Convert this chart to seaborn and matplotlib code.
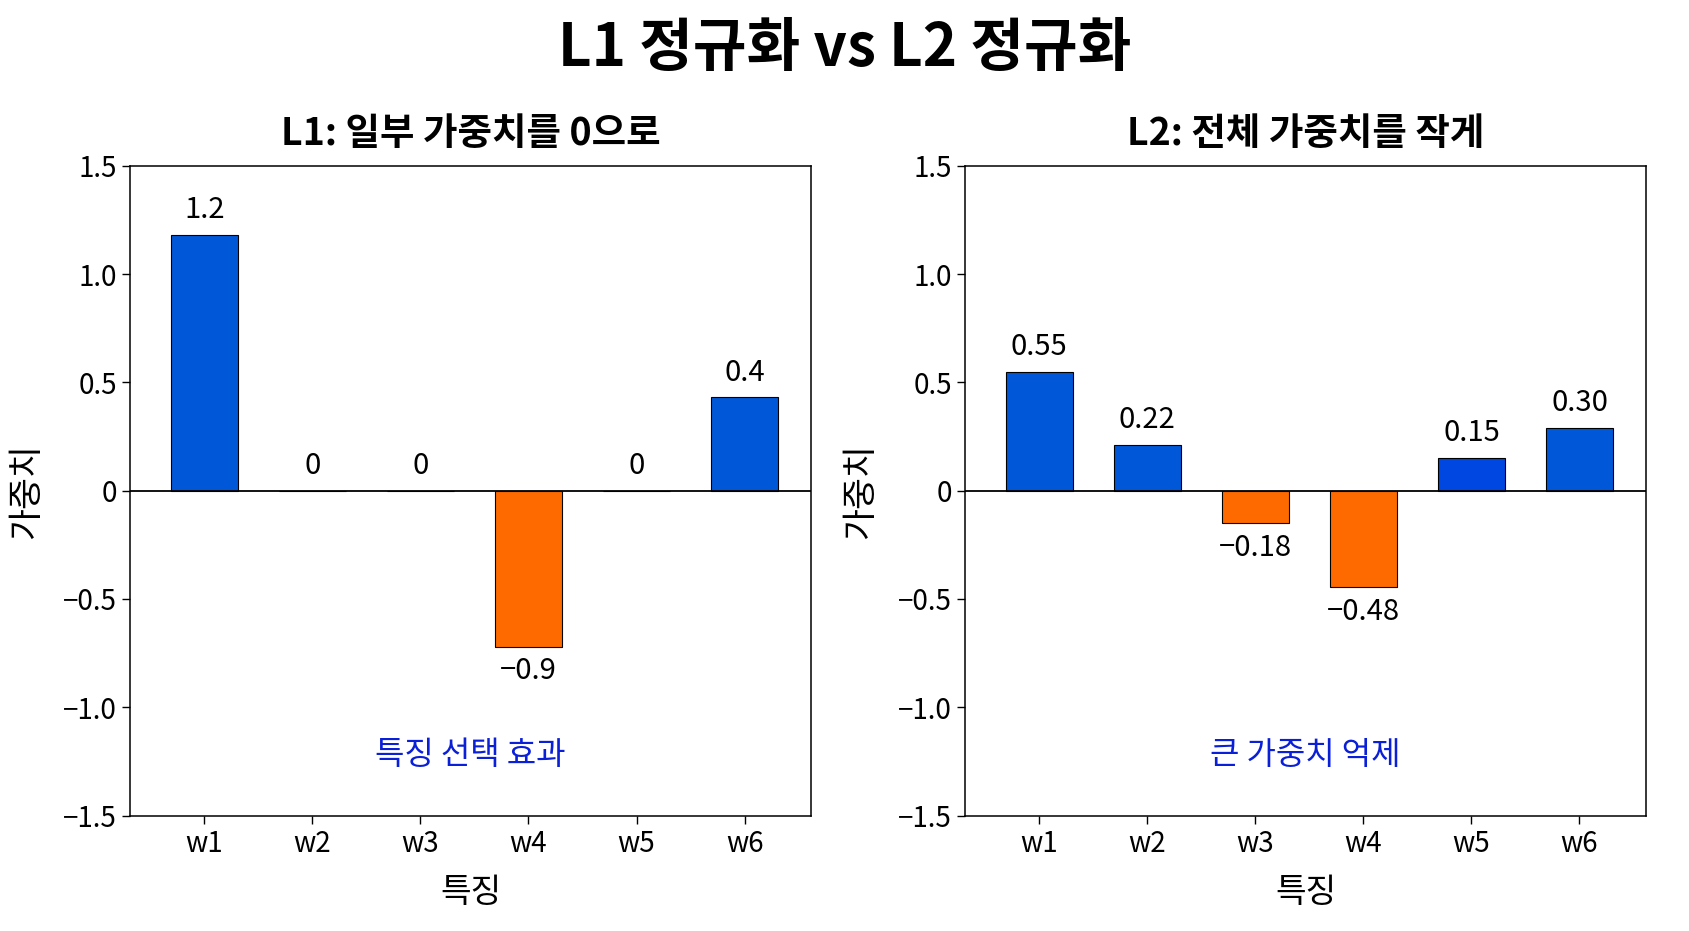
import matplotlib
matplotlib.use("Agg")
import matplotlib.pyplot as plt
import pandas as pd
import seaborn as sns

# data
features = ["w1", "w2", "w3", "w4", "w5", "w6"]
l1_weights = [1.18, 0.0, 0.0, -0.72, 0.0, 0.43]
l1_labels = ["1.2", "0", "0", "\u22120.9", "0", "0.4"]
l2_weights = [0.55, 0.21, -0.15, -0.445, 0.15, 0.29]
l2_labels = ["0.55", "0.22", "\u22120.18", "\u22120.48", "0.15", "0.30"]

BLUE = "#0058D8"
BLUE2 = "#0046E0"
ORANGE = "#FF6A00"
l1_colors = [BLUE, BLUE, BLUE, ORANGE, BLUE, BLUE]
l2_colors = [BLUE, BLUE, ORANGE, ORANGE, BLUE2, BLUE]

sns.set_theme(style="white")
plt.rcParams['font.family'] = ['Noto Sans CJK KR', 'DejaVu Sans']
plt.rcParams['axes.unicode_minus'] = True
# seaborn greys the text, the reference is plain black
for key in ['text.color', 'axes.labelcolor', 'xtick.color', 'ytick.color']:
    plt.rcParams[key] = 'black'


def draw_panel(ax, weights, labels, colors, title, note):
    '''bar chart of weights for one regularisation type'''
    df = pd.DataFrame({'feature': features, 'weight': weights})
    sns.barplot(data=df, x='feature', y='weight', hue='feature',
                palette=colors, legend=False, width=0.62,
                edgecolor='black', linewidth=0.8, saturation=1, ax=ax)
    ax.axhline(0, color='black', lw=1.3, zorder=5)

    for i, (w, lab) in enumerate(zip(weights, labels)):
        if w < 0:
            ax.annotate(lab, (i, w), xytext=(0, -7), textcoords='offset points',
                        ha='center', va='top', fontsize=21)
        else:
            ax.annotate(lab, (i, w), xytext=(0, 7), textcoords='offset points',
                        ha='center', va='bottom', fontsize=21)

    # note sits in the middle of the panel, near the bottom
    ax.text(0.5, 0.093, note, color='#0A1FD8', fontsize=23,
            ha='center', va='center', transform=ax.transAxes)

    ax.set_ylim(-1.5, 1.5)
    ax.set_xlim(-0.686, 5.616)
    ax.set_yticks([-1.5, -1.0, -0.5, 0, 0.5, 1.0, 1.5])
    ax.set_yticklabels(["\u22121.5", "\u22121.0", "\u22120.5", "0", "0.5", "1.0", "1.5"])
    ax.tick_params(axis='both', labelsize=20, length=6, width=1, direction='out',
                   left=True, bottom=True, colors='black')
    ax.set_title(title, fontsize=27, fontweight='bold', pad=15)
    ax.set_xlabel('특징', fontsize=24, labelpad=12)
    ax.set_ylabel('가중치', fontsize=25, labelpad=14)
    for s in ax.spines.values():
        s.set_color('black')
        s.set_linewidth(1.1)


fig, axes = plt.subplots(1, 2, figsize=(16.9, 9.31), dpi=100)
fig.subplots_adjust(left=0.077, right=0.974, bottom=0.124, top=0.822, wspace=0.226)

draw_panel(axes[0], l1_weights, l1_labels, l1_colors,
           'L1: 일부 가중치를 0으로', '특징 선택 효과')
draw_panel(axes[1], l2_weights, l2_labels, l2_colors,
           'L2: 전체 가중치를 작게', '큰 가중치 억제')

fig.suptitle('L1 정규화 vs L2 정규화', fontsize=42, fontweight='bold', y=0.98)

fig.savefig('out.png', dpi=100)
